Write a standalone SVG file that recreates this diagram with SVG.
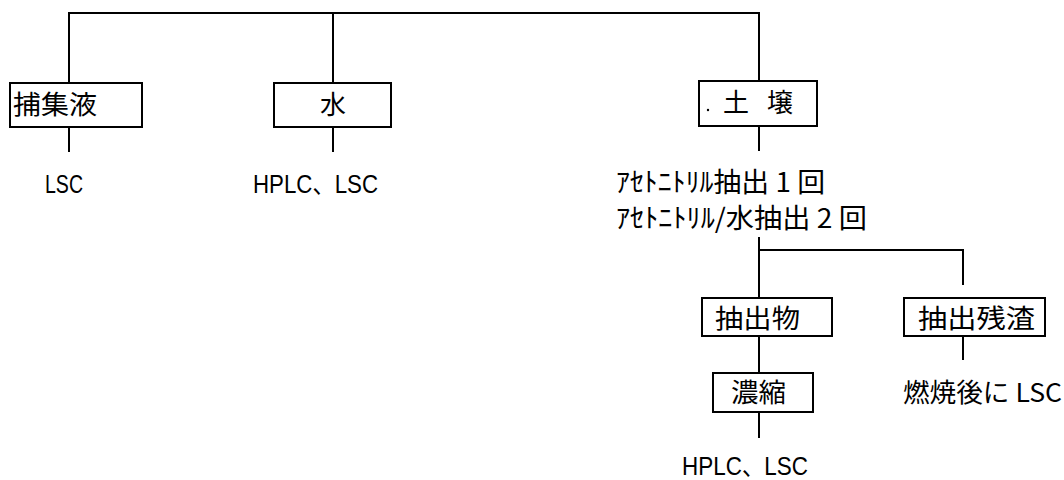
<svg xmlns="http://www.w3.org/2000/svg" width="1064" height="480" viewBox="0 0 1064 480">
<style>
.box{fill:#fff;stroke:#000;stroke-width:2}
.ln{stroke:#000;stroke-width:2;fill:none}
.jp{font-family:"Noto Sans CJK JP","Noto Sans",sans-serif;font-size:26px;fill:#000}
.kt{font-family:"Noto Sans CJK JP","Noto Sans",sans-serif;font-size:27px;fill:#000}
.lat{font-family:"Liberation Sans","Noto Sans CJK JP",sans-serif;font-size:25px;fill:#000}
</style>
<rect width="1064" height="480" fill="#fff"/>
<g id="connectors">
<path class="ln" d="M69,84 V13 H759 V81"/>
<path class="ln" d="M333,13 V83"/>
<path class="ln" d="M69,127 V152"/>
<path class="ln" d="M333,127 V152"/>
<path class="ln" d="M759,126 V151"/>
<path class="ln" d="M759,237 V298 M759,250 H963 V285"/>
<path class="ln" d="M759,336 V373"/>
<path class="ln" d="M759,412 V438"/>
<path class="ln" d="M963,336 V360"/>
</g>
<g id="n1"><rect class="box" x="10" y="83" width="132" height="44"/><text class="jp" x="13" y="114" textLength="84" lengthAdjust="spacingAndGlyphs">捕集液</text></g>
<g id="n1out"><text class="lat" x="45" y="193" textLength="38" lengthAdjust="spacingAndGlyphs">LSC</text></g>
<g id="n2"><rect class="box" x="274" y="83" width="117" height="44"/><text class="jp" x="320" y="114">水</text></g>
<g id="n2out"><text class="lat" x="253" y="193" textLength="125" lengthAdjust="spacingAndGlyphs">HPLC、LSC</text></g>
<g id="n3"><rect class="box" x="699" y="81" width="118" height="45"/><circle cx="708" cy="110" r="1.2" fill="#000"/><text class="jp" x="723" y="112">土</text><text class="jp" x="767" y="112">壌</text></g>
<g id="n3out"><text class="kt" x="616" y="192" textLength="209" lengthAdjust="spacingAndGlyphs">ｱｾﾄﾆﾄﾘﾙ抽出 1 回</text><text class="kt" x="616" y="228" textLength="251" lengthAdjust="spacingAndGlyphs">ｱｾﾄﾆﾄﾘﾙ/水抽出 2 回</text></g>
<g id="n4"><rect class="box" x="702" y="298" width="130" height="38"/><text class="jp" x="715" y="328" textLength="85" lengthAdjust="spacingAndGlyphs">抽出物</text></g>
<g id="n5"><rect class="box" x="904" y="298" width="141" height="38"/><text class="jp" x="918" y="328" textLength="117" lengthAdjust="spacingAndGlyphs">抽出残渣</text></g>
<g id="n6"><rect class="box" x="713" y="373" width="100" height="39"/><text class="jp" x="731" y="402" textLength="55" lengthAdjust="spacingAndGlyphs">濃縮</text></g>
<g id="n6out"><text class="lat" x="682" y="475" textLength="126" lengthAdjust="spacingAndGlyphs">HPLC、LSC</text></g>
<g id="n5out"><text class="jp" x="903" y="402" textLength="159" lengthAdjust="spacingAndGlyphs">燃焼後に LSC</text></g>
</svg>
